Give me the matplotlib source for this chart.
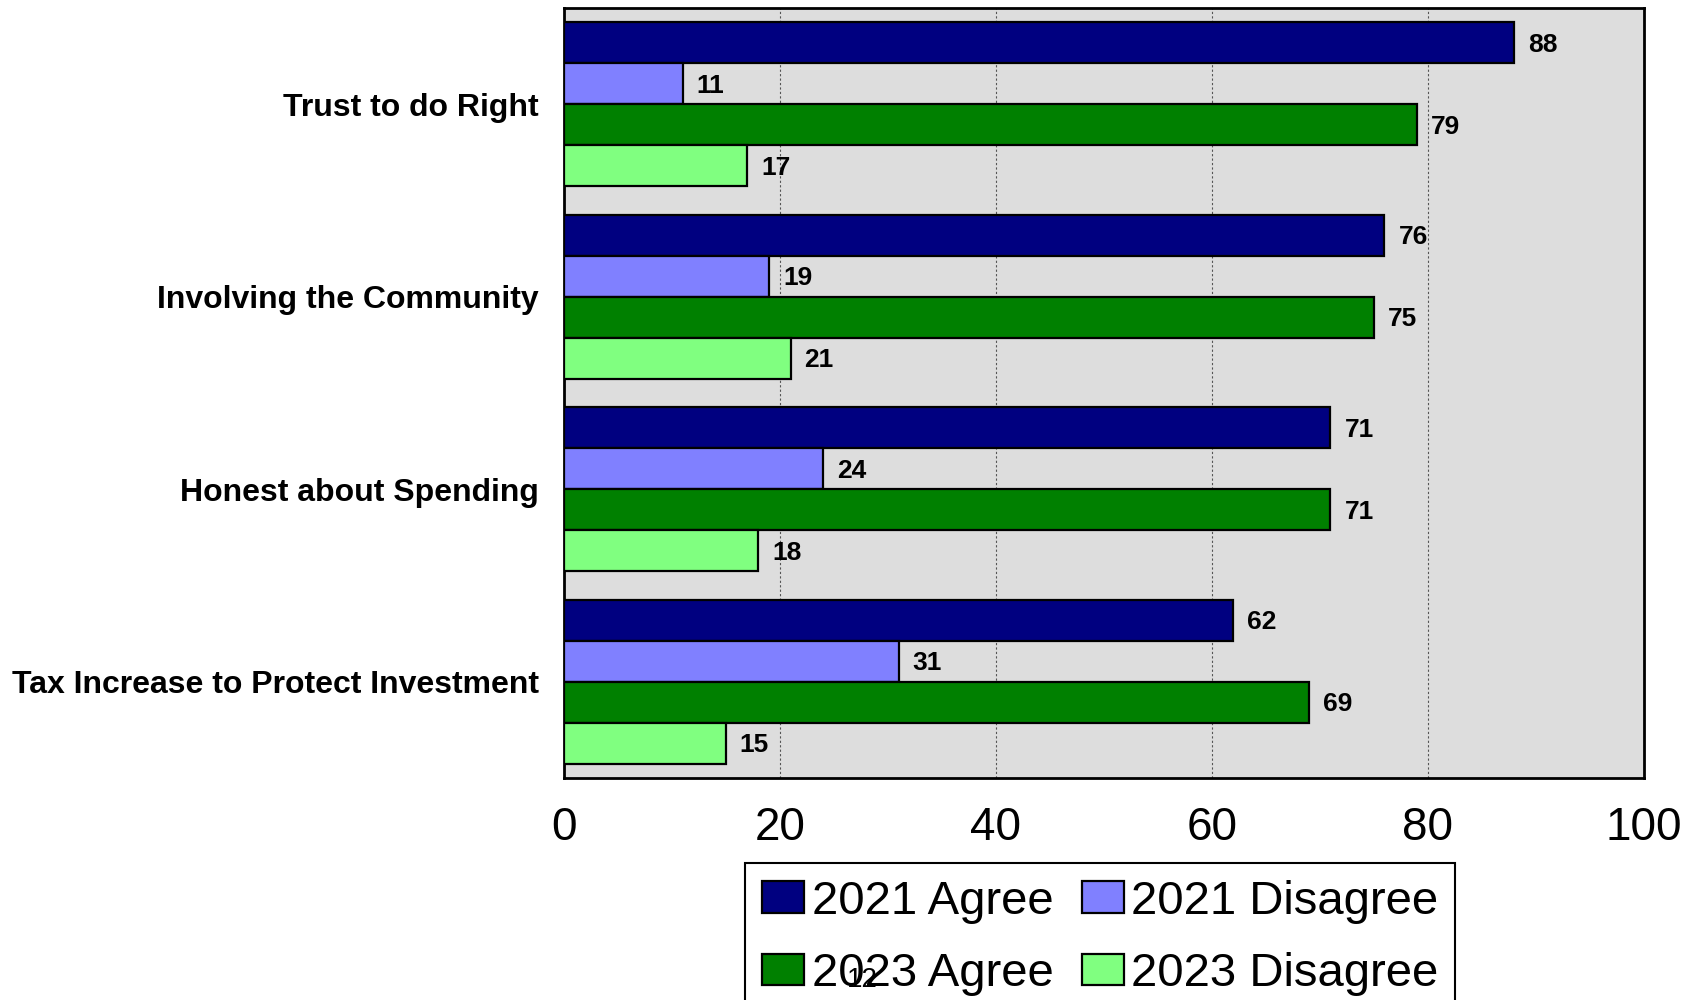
import matplotlib
matplotlib.use("Agg")
import matplotlib.pyplot as plt
import numpy as np

categories = ["Trust to do Right", "Involving the Community",
              "Honest about Spending", "Tax Increase to Protect Investment"]
series_names = ["2021 Agree", "2021 Disagree", "2023 Agree", "2023 Disagree"]
agree_2021 = [88, 76, 71, 62]
disagree_2021 = [11, 19, 24, 31]
agree_2023 = [79, 75, 71, 69]
disagree_2023 = [17, 21, 18, 15]
colors = ["#000080", "#8080FF", "#008000", "#80FF80"]
x_ticks = [0, 20, 40, 60, 80, 100]

plt.rcParams["font.family"] = ["Liberation Sans Narrow", "Liberation Sans", "DejaVu Sans"]

fig = plt.figure(figsize=(16.98, 10.0), dpi=100)
ax = fig.add_axes([0.332, 0.222, 0.636, 0.770])
ax.set_facecolor("#DDDDDD")

series = [agree_2021, disagree_2021, agree_2023, disagree_2023]
bh = 0.2135
y = np.arange(len(categories))
handles = []
for k, (vals, c, name) in enumerate(zip(series, colors, series_names)):
    pos = y - 1.5 * bh + k * bh
    b = ax.barh(pos, vals, height=bh, color=c, edgecolor="black", linewidth=1.6,
                label=name, zorder=3)
    handles.append(b)
    for p, v in zip(pos, vals):
        ax.text(v + 1.3, p + 0.01, str(v), va="center", ha="left", fontsize=19,
                fontweight="bold", zorder=4)

ax.set_ylim(len(categories) - 0.5, -0.5)
ax.set_xlim(0, 100)
ax.set_xticks(x_ticks)
ax.set_xticklabels([str(t) for t in x_ticks], fontsize=33)
ax.set_yticks(y)
ax.set_yticklabels(categories, fontsize=23, fontweight="bold")
ax.tick_params(axis="both", length=0)
ax.tick_params(axis="x", pad=20)
ax.tick_params(axis="y", pad=18)
ax.grid(axis="x", color="#555555", linestyle=(0, (2, 2)), linewidth=0.8, zorder=1)
for s in ax.spines.values():
    s.set_linewidth(2)
    s.set_color("black")

# row-wise legend order: 2021 Agree | 2021 Disagree / 2023 Agree | 2023 Disagree
order = [0, 2, 1, 3]
leg = fig.legend([handles[i] for i in order], [series_names[i] for i in order],
                 loc="upper left", bbox_to_anchor=(0.439, 0.137), ncol=2,
                 fontsize=34, frameon=True, fancybox=False, edgecolor="black",
                 framealpha=1, handlelength=0.9, handleheight=0.65,
                 handletextpad=0.15, columnspacing=0.6, borderpad=0.35,
                 labelspacing=0.6, borderaxespad=0)
leg.get_frame().set_linewidth(1.5)

fig.text(0.508, 0.02, "12", fontsize=20, ha="center", va="center", zorder=10)

fig.savefig("out.png", dpi=100)
